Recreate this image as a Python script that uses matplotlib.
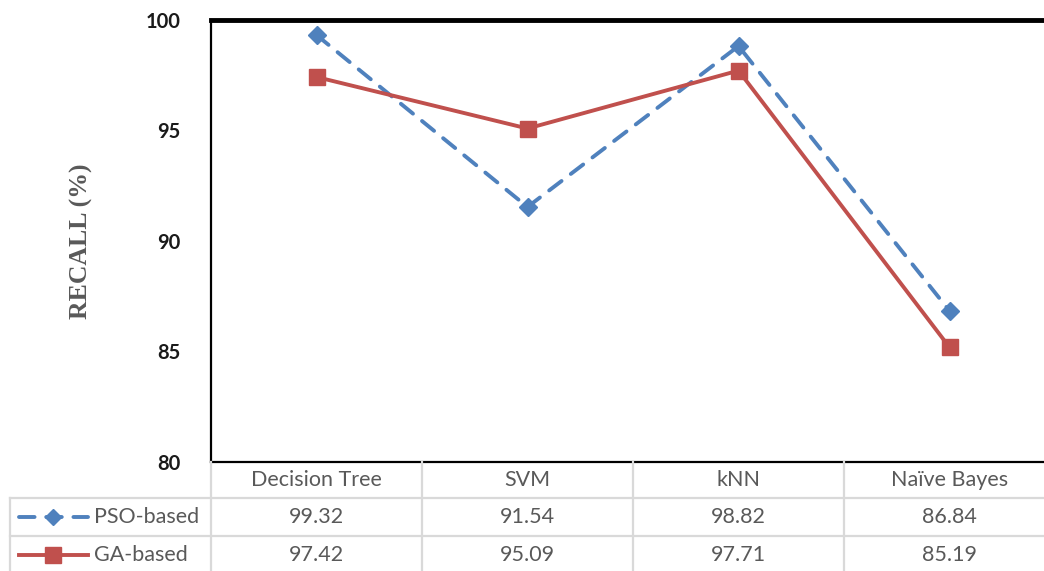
import numpy as np
import matplotlib.pyplot as plt
from matplotlib.lines import Line2D

categories = ["Decision Tree", "SVM", "kNN", "Naïve Bayes"]
pso = [99.32, 91.54, 98.82, 86.84]
ga = [97.42, 95.09, 97.71, 85.19]
series_names = ["PSO-based", "GA-based"]
yticks = [80, 85, 90, 95, 100]

W, H = 1044, 571
fig = plt.figure(figsize=(W / 100, H / 100), dpi=100)

def fx(px):
    return px / W

def fy(py):
    return 1 - py / H

# plot area (extends slightly past the right edge, like the original)
left, right, top, bottom = 211, 1055, 20, 462
ax = fig.add_axes([fx(left), fy(bottom), fx(right - left), (bottom - top) / H])

blue = "#4F81BD"
red = "#C0504D"
x = np.arange(len(categories))

ax.plot(x, pso, color=blue, lw=2.8, ls=(0, (4, 3)), dash_capstyle="round",
        marker="D", ms=9, mfc=blue, mec=blue, zorder=3)
ax.plot(x, ga, color=red, lw=2.8, marker="s", ms=12, mfc=red, mec=red, zorder=3)

ax.set_xlim(-0.5, len(categories) - 0.5)
ax.set_ylim(80, 100)
ax.set_yticks(yticks)
ax.set_xticks([])
ax.tick_params(axis="y", length=0, pad=22, labelsize=14.5, labelcolor="#1a1a1a")
for lab in ax.get_yticklabels():
    lab.set_fontfamily("Lato")
    lab.set_fontweight("bold")

ax.spines["right"].set_visible(False)
ax.spines["top"].set_linewidth(3.5)
ax.spines["left"].set_linewidth(1.6)
ax.spines["bottom"].set_linewidth(1.6)
for s in ax.spines.values():
    s.set_color("black")
ax.spines["top"].set_zorder(4)

ax.set_ylabel("RECALL (%)", fontfamily="Liberation Serif", fontweight="bold",
              fontsize=18.5, color="#595959", labelpad=38)

# data table below the plot
grid = "#D9D9D9"
col_edges = [211, 422, 633, 844, 1055]
row_edges = [462, 498, 536, 574]
lw_grid = 1.6

# horizontal lines
for r in row_edges[1:]:
    fig.add_artist(Line2D([fx(10), fx(1055)], [fy(r), fy(r)], color=grid, lw=lw_grid))
# vertical lines
for c in col_edges:
    fig.add_artist(Line2D([fx(c), fx(c)], [fy(462), fy(574)], color=grid, lw=lw_grid))
fig.add_artist(Line2D([fx(10), fx(10)], [fy(498), fy(574)], color=grid, lw=lw_grid))

txt_color = "#595959"
fs = 15.5
for i, cat in enumerate(categories):
    cx = (col_edges[i] + col_edges[i + 1]) / 2
    fig.text(fx(cx), fy(480), cat, ha="center", va="center", fontsize=fs,
             fontfamily="Lato", color=txt_color)
    fig.text(fx(cx), fy(517), f"{pso[i]:.2f}", ha="center", va="center", fontsize=fs,
             fontfamily="Lato", color=txt_color)
    fig.text(fx(cx), fy(555), f"{ga[i]:.2f}", ha="center", va="center", fontsize=fs,
             fontfamily="Lato", color=txt_color)

# legend keys inside the table
fig.add_artist(Line2D([fx(19), fx(88)], [fy(517), fy(517)], color=blue, lw=2.8,
                      ls=(0, (4, 3)), dash_capstyle="round"))
fig.add_artist(Line2D([fx(53)], [fy(517)], color=blue, marker="D", ms=8, mfc=blue, mec=blue))
fig.add_artist(Line2D([fx(19), fx(88)], [fy(555), fy(555)], color=red, lw=2.8))
fig.add_artist(Line2D([fx(53)], [fy(555)], color=red, marker="s", ms=11, mfc=red, mec=red))
fig.text(fx(94), fy(517), series_names[0], ha="left", va="center", fontsize=fs,
         fontfamily="Lato", color=txt_color)
fig.text(fx(94), fy(555), series_names[1], ha="left", va="center", fontsize=fs,
         fontfamily="Lato", color=txt_color)

fig.savefig("out.png", dpi=100)
